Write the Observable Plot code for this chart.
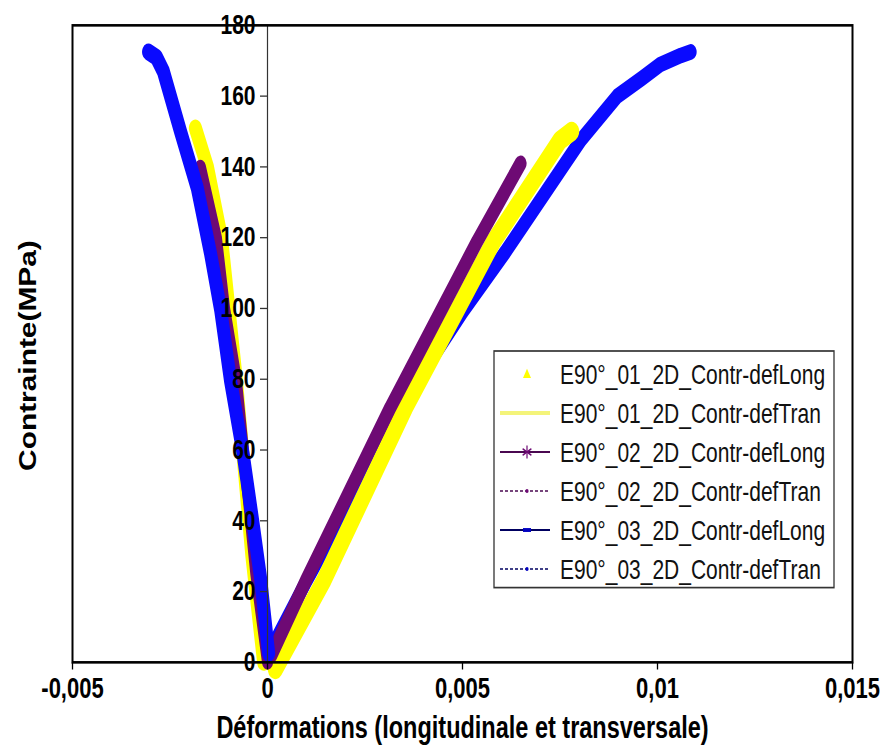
<!DOCTYPE html>
<html><head><meta charset="utf-8">
<script src="https://cdn.jsdelivr.net/npm/d3@7"></script>
<script src="https://cdn.jsdelivr.net/npm/@observablehq/plot@0.6"></script>
<style>body{margin:0;background:#fff;} #chart{width:888px;height:754px;overflow:hidden;}</style>
</head><body><div id="chart"></div>
<script>
// ---- data (strain, stress MPa) ----
const seriesNames = [
  "E90°_01_2D_Contr-defLong",
  "E90°_01_2D_Contr-defTran",
  "E90°_02_2D_Contr-defLong",
  "E90°_02_2D_Contr-defTran",
  "E90°_03_2D_Contr-defLong",
  "E90°_03_2D_Contr-defTran"
];
// longitudinal (right branches)
const long01X = [0.0002, 0.00144, 0.00354, 0.00482, 0.0058, 0.0075, 0.0078];
const long01Y = [-2, 23, 72, 98.6, 119, 147.5, 150];
const long02X = [0.0001, 0.00098, 0.00315, 0.00538, 0.00649];
const long02Y = [2, 23, 72, 119, 141];
const long03X = [0.00003, 0.0010, 0.0022, 0.0034, 0.0050, 0.0061, 0.00751, 0.00803, 0.00897, 0.0096, 0.01008, 0.0106, 0.01085];
const long03Y = [2.5, 23, 47, 72, 99, 116, 139, 147.5, 160, 165, 169, 171.5, 172.5];
// transverse (left branches)
const tran01X = [-0.0001, -0.0004, -0.0008, -0.00118, -0.00154, -0.00185];
const tran01Y = [0, 30, 80, 120, 140, 151];
const tran02X = [0, -0.0003, -0.0008, -0.0011, -0.00131, -0.00172];
const tran02Y = [0, 25, 80, 100, 120, 140];
const tran03X = [0.00003, -0.00018, -0.00038, -0.00064, -0.00095, -0.0012, -0.00146, -0.0018, -0.00223, -0.00267, -0.00285, -0.00305];
const tran03Y = [2.5, 24, 40, 60, 79.7, 99.5, 115.5, 134, 150, 167, 171, 172.5];

const xTicks = [-0.005, 0, 0.005, 0.01, 0.015];
const yTicks = [0, 20, 40, 60, 80, 100, 120, 140, 160, 180];
const xLabel = "Déformations (longitudinale et transversale)";
const yLabel = "Contrainte(MPa)";

// ---- layout ----
const FONT = "'Liberation Sans', Arial, Helvetica, sans-serif";
const W = 888, H = 754, SY = 1.3, H0 = H / SY;
const mL = 72, mR = 36, mT = 19, mB = H0 - 509;
const xDom = [-0.005, 0.015], yDom = [0, 180];
const zeroShift = (0 - xDom[0]) / (xDom[1] - xDom[0]) * (W - mL - mR);

const YELLOW = "#ffff00", PURPLE = "#6e0a74", BLUE = "#0a0aff";
const toRows = (xs, ys) => xs.map((x, i) => ({x, y: ys[i]}));
const lineOpts = (stroke, w) => ({x: "x", y: "y", stroke, strokeWidth: w, strokeLinecap: "round", strokeLinejoin: "round"});

const fmtX = d => d === 0 ? "0" : String(d).replace(".", ",");

const svg = Plot.plot({
  width: W, height: H0,
  marginLeft: mL, marginRight: mR, marginTop: mT, marginBottom: mB,
  x: {domain: xDom},
  y: {domain: yDom},
  style: {fontFamily: FONT, background: "white", color: "black", overflow: "visible"},
  marks: [
    Plot.line(toRows(long03X, long03Y), lineOpts(BLUE, 12)),
    Plot.line(toRows(tran01X, tran01Y), lineOpts(YELLOW, 13)),
    Plot.line(toRows(long01X, long01Y), lineOpts(YELLOW, 15)),
    Plot.line(toRows(tran02X, tran02Y), lineOpts(PURPLE, 11)),
    Plot.line(toRows(long02X, long02Y), lineOpts(PURPLE, 12)),
    Plot.line(toRows(tran03X, tran03Y), lineOpts(BLUE, 13)),
    Plot.ruleX([0], {stroke: "#333", strokeWidth: 1.2}),
    Plot.axisY({anchor: "left", ticks: yTicks, tickFormat: d => String(d), tickSize: 7, tickPadding: 5,
      dx: zeroShift, fontSize: 21, fontWeight: "bold", label: null, stroke: "#333"}),
    Plot.axisX({anchor: "bottom", ticks: xTicks, tickFormat: fmtX, tickSize: 6, tickPadding: 6,
      fontSize: 22, fontWeight: "bold", label: null, strokeWidth: 1.3}),
    Plot.frame({stroke: "#000", strokeWidth: 2}),
    Plot.text([xLabel], {frameAnchor: "bottom", textAnchor: "middle", lineAnchor: "middle", dy: 51,
      text: d => d, fontSize: 23.5, fontWeight: "bold", fill: "black"}),
    Plot.text([yLabel], {frameAnchor: "left", textAnchor: "middle", lineAnchor: "middle", rotate: -90, dx: -44, dy: 9,
      text: d => d, fontSize: 23, fontWeight: "bold", fill: "black"})
  ]
});

// ---- legend ----
const lg = d3.select(svg).append("g").attr("font-family", FONT).attr("text-anchor", "start");
const bx = 494, by = 270, bw = 340, bh = 182, step = 30, y0 = by + 17.7;
lg.append("rect").attr("x", bx).attr("y", by).attr("width", bw).attr("height", bh)
  .attr("fill", "white").attr("stroke", "#333").attr("stroke-width", 1.3);
const sx1 = 500, sx2 = 550, sc = 527;
seriesNames.forEach((name, i) => {
  const y = y0 + i * step;
  const g = lg.append("g");
  if (i === 0) {
    g.append("path").attr("d", `M${sc},${y-4}L${sc+4},${y+3}L${sc-4},${y+3}Z`).attr("fill", YELLOW);
  } else if (i === 1) {
    g.append("line").attr("x1", sx1).attr("x2", sx2).attr("y1", y).attr("y2", y).attr("stroke", "#f4f47a").attr("stroke-width", 3);
  } else if (i === 2) {
    g.append("line").attr("x1", sx1).attr("x2", sx2).attr("y1", y).attr("y2", y).attr("stroke", "#4a0850").attr("stroke-width", 1.5);
    const r = 5;
    [[0, r], [r * 0.87, r * 0.5], [r * 0.87, -r * 0.5]].forEach(([a, b]) => {
      g.append("line").attr("x1", sc - a).attr("x2", sc + a).attr("y1", y - b).attr("y2", y + b).attr("stroke", PURPLE).attr("stroke-width", 1.2);
    });
  } else if (i === 3) {
    g.append("line").attr("x1", sx1).attr("x2", sx2).attr("y1", y).attr("y2", y).attr("stroke", "#4a0850").attr("stroke-width", 1).attr("stroke-dasharray", "3,2");
    g.append("circle").attr("cx", sc).attr("cy", y).attr("r", 1.6).attr("fill", PURPLE);
  } else if (i === 4) {
    g.append("line").attr("x1", sx1).attr("x2", sx2).attr("y1", y).attr("y2", y).attr("stroke", "#000060").attr("stroke-width", 1.5);
    g.append("line").attr("x1", sc - 4).attr("x2", sc + 4).attr("y1", y).attr("y2", y).attr("stroke", "#0000c0").attr("stroke-width", 3);
  } else {
    g.append("line").attr("x1", sx1).attr("x2", sx2).attr("y1", y).attr("y2", y).attr("stroke", "#000060").attr("stroke-width", 1).attr("stroke-dasharray", "3,2");
    g.append("circle").attr("cx", sc).attr("cy", y).attr("r", 1.6).attr("fill", "#0000c0");
  }
  lg.append("text").attr("x", 560).attr("y", y).attr("dy", "0.35em").attr("font-size", 21).attr("fill", "#111").text(name);
});

// stretch vertically like the reference picture
svg.setAttribute("height", H);
svg.setAttribute("preserveAspectRatio", "none");
svg.style.height = H + "px";
svg.style.width = W + "px";
svg.style.maxWidth = "none";
document.getElementById("chart").appendChild(svg);
</script>
</body></html>
